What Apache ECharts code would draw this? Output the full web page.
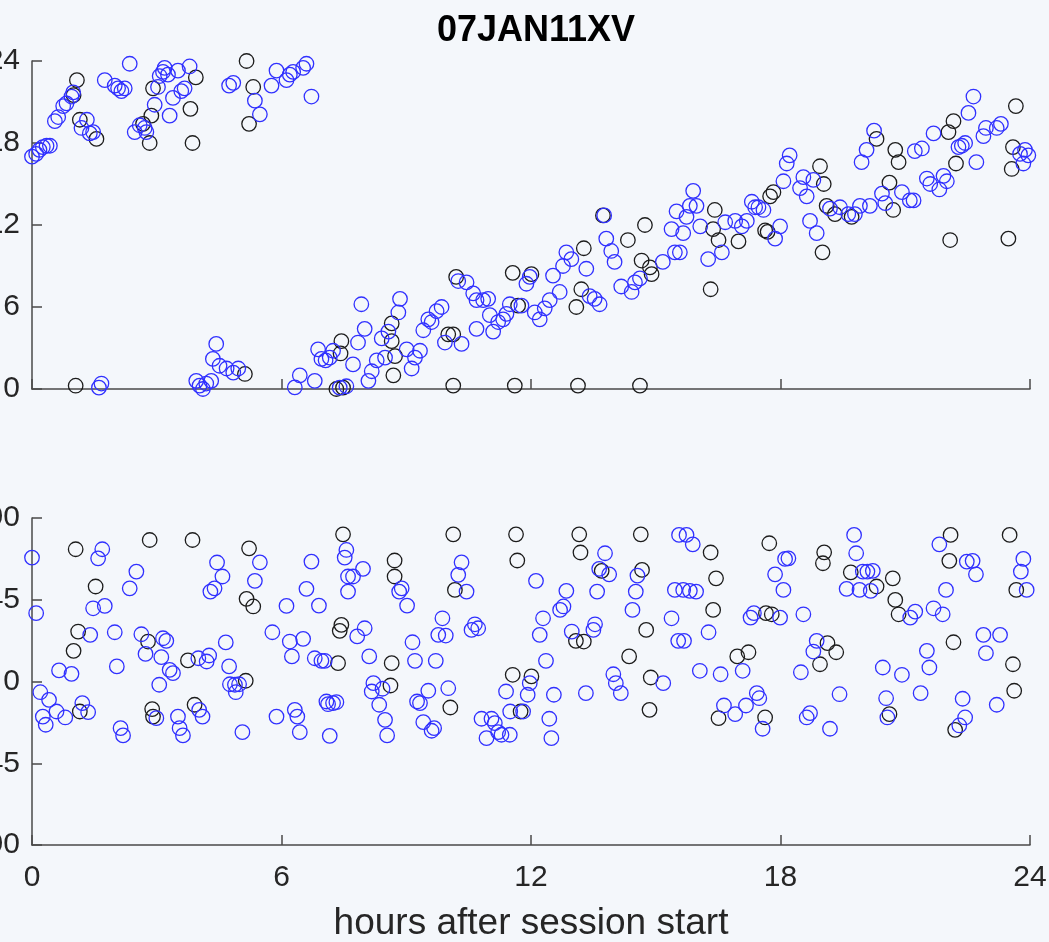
<!DOCTYPE html>
<html>
<head>
<meta charset="utf-8">
<script src="https://cdn.jsdelivr.net/npm/echarts@6/dist/echarts.min.js"></script>
<style>
html,body{margin:0;padding:0;background:#f4f7fb;}
#chart{width:1049px;height:942px;}
</style>
</head>
<body>
<div id="chart"></div>
<script>
// ---- data: [hours after session start, value] ----
const titleText = '07JAN11XV';
const xTicks = [0, 6, 12, 18, 24];
const topTicks = [0, 6, 12, 18, 24];
const botTicks = [-90, -45, 0, 45, 90];
const xLabel = 'hours after session start';

const topBlack = [[1.0,21.5],[1.05,0.24],[1.08,22.6],[1.15,19.7],[1.55,18.3],[2.67,19.4],[2.83,18.0],[2.87,20.0],[2.91,22.0],[3.81,20.5],[3.86,18.0],[3.94,22.8],[5.12,1.1],[5.16,24.0],[5.32,22.1],[5.22,19.4],[7.44,3.5],[7.42,2.6],[7.32,0.0],[7.48,0.1],[8.65,4.8],[8.65,3.5],[8.73,2.4],[8.69,1.0],[10.01,4.0],[10.13,4.0],[10.2,8.2],[10.13,0.25],[11.56,8.5],[11.61,0.25],[11.69,6.1],[12.01,8.4],[13.09,6.0],[13.13,0.25],[13.21,7.3],[13.27,10.3],[13.73,12.7],[14.33,10.9],[14.62,0.25],[14.66,9.4],[14.74,12.0],[14.86,8.9],[14.9,8.4],[16.32,7.3],[16.42,13.1],[16.38,11.7],[16.51,10.9],[16.99,10.8],[17.63,11.6],[17.69,11.5],[17.75,14.1],[17.83,14.4],[18.95,16.3],[19.04,15.0],[19.01,10.0],[19.11,13.4],[19.31,12.8],[19.71,12.6],[20.31,18.3],[20.62,15.1],[20.71,13.1],[20.76,17.5],[20.84,16.6],[22.08,10.9],[22.04,18.8],[22.16,19.6],[22.22,16.5],[23.48,11.0],[23.56,16.1],[23.59,17.7],[23.66,20.7]];

const topBlue = [[0,17.0],[0.1,17.2],[0.18,17.5],[0.26,17.7],[0.35,17.8],[0.43,17.8],[0.55,19.6],[0.63,19.9],[0.75,20.7],[0.83,20.9],[0.95,21.4],[0.99,21.7],[1.19,19.1],[1.32,19.7],[1.39,18.7],[1.47,18.8],[1.61,0.1],[1.67,0.4],[1.75,22.6],[1.99,22.2],[2.07,22.0],[2.15,21.8],[2.23,22.0],[2.35,23.8],[2.47,18.8],[2.59,19.3],[2.71,19.1],[2.75,18.8],[2.95,20.8],[3.03,22.1],[3.07,22.9],[3.15,23.2],[3.19,23.5],[3.27,23.0],[3.31,20.0],[3.39,21.3],[3.51,23.3],[3.59,21.8],[3.67,22.0],[3.79,23.6],[3.95,0.6],[4.03,0.25],[4.11,0.0],[4.19,0.4],[4.31,0.6],[4.35,2.2],[4.43,3.3],[4.51,1.7],[4.68,1.5],[4.84,1.2],[4.96,1.5],[4.74,22.2],[4.84,22.4],[5.36,21.1],[5.48,20.1],[5.76,22.2],[5.88,23.3],[6.12,22.6],[6.2,23.0],[6.28,23.2],[6.52,23.5],[6.6,23.8],[6.72,21.4],[6.32,0.12],[6.44,1.0],[6.8,0.6],[6.88,2.9],[6.96,2.2],[7.06,2.1],[7.16,2.3],[7.24,2.8],[7.4,0.1],[7.56,0.2],[7.72,1.8],[7.84,3.4],[7.92,6.2],[8.0,4.4],[8.09,0.6],[8.17,1.3],[8.29,2.1],[8.41,3.7],[8.49,2.3],[8.57,4.2],[8.81,5.6],[8.85,6.6],[9.01,2.9],[9.13,1.5],[9.21,2.3],[9.33,2.8],[9.41,4.3],[9.53,5.1],[9.61,4.9],[9.73,5.7],[9.85,6.0],[9.93,3.4],[10.25,7.9],[10.33,3.3],[10.45,7.8],[10.61,7.0],[10.69,6.5],[10.85,6.5],[10.97,6.6],[10.69,4.4],[11.01,5.4],[11.09,4.2],[11.21,4.9],[11.33,5.1],[11.41,5.5],[11.49,6.2],[11.77,6.1],[11.89,7.7],[11.97,8.2],[12.09,5.6],[12.21,5.1],[12.33,5.9],[12.45,6.5],[12.53,8.3],[12.69,7.1],[12.77,9.0],[12.85,10.0],[12.97,9.5],[13.33,8.8],[13.41,6.8],[13.53,6.6],[13.65,6.2],[13.76,12.7],[13.81,11.0],[13.93,10.1],[14.01,9.3],[14.17,7.5],[14.42,7.1],[14.5,7.8],[14.62,8.1],[15.17,9.3],[15.38,11.7],[15.46,10.0],[15.5,13.0],[15.58,10.0],[15.66,11.4],[15.74,12.6],[15.82,13.4],[15.98,13.4],[15.9,14.5],[16.07,11.9],[16.26,9.5],[16.59,10.0],[16.67,12.2],[16.91,12.3],[17.07,11.9],[17.19,12.3],[17.31,13.7],[17.39,13.3],[17.47,13.3],[17.59,13.1],[17.87,11.0],[17.99,11.9],[18.07,15.2],[18.15,16.5],[18.22,17.1],[18.47,14.7],[18.55,15.5],[18.63,14.1],[18.71,12.3],[18.79,15.3],[18.87,11.4],[19.19,13.2],[19.43,13.3],[19.63,12.8],[19.79,12.8],[19.91,13.4],[20.15,13.4],[19.95,16.6],[20.07,17.5],[20.25,18.9],[20.44,14.3],[20.52,13.6],[20.92,14.4],[21.11,13.8],[21.2,13.8],[21.23,17.4],[21.4,17.6],[21.52,15.4],[21.6,15.0],[21.68,18.7],[21.82,14.6],[21.92,15.6],[22.0,15.2],[22.28,17.7],[22.36,17.8],[22.44,18.0],[22.52,20.2],[22.64,21.4],[22.71,16.6],[22.88,18.5],[22.94,19.1],[23.2,19.1],[23.3,19.4],[23.76,17.2],[23.84,16.5],[23.96,17.1],[23.88,17.5]];

const botBlack = [[1.0,16.9],[1.05,72.8],[1.11,27.5],[1.15,-16.5],[1.53,52.3],[2.79,22.0],[2.83,77.9],[2.89,-15.2],[2.91,-19.3],[3.75,11.6],[3.86,77.9],[3.91,-12.8],[5.14,0.4],[5.16,45.5],[5.22,73.3],[5.32,41.3],[7.36,10.1],[7.4,27.9],[7.44,31.2],[7.48,81.0],[8.65,10.1],[8.62,-2.2],[8.72,66.6],[8.72,57.8],[10.06,-14.3],[10.13,81.0],[10.17,50.4],[11.56,3.7],[11.64,81.0],[11.67,66.6],[11.75,-16.5],[12.01,2.8],[13.08,22.4],[13.16,81.0],[13.19,71.0],[13.27,22.0],[13.7,60.9],[14.36,13.8],[14.64,81.0],[14.67,61.4],[14.77,28.4],[14.85,-15.6],[14.88,2.2],[16.32,71.0],[16.45,56.8],[16.38,39.4],[16.51,-20.2],[16.96,13.8],[17.23,16.1],[17.63,-19.8],[17.73,76.1],[17.65,37.6],[17.79,37.0],[18.95,9.5],[19.02,65.1],[19.05,71.1],[19.13,21.1],[19.34,16.1],[19.69,60.1],[20.31,52.3],[20.62,-18.0],[20.7,56.8],[20.76,44.9],[20.84,37.0],[22.06,66.4],[22.09,80.7],[22.16,21.6],[22.2,-26.6],[23.51,80.7],[23.59,9.5],[23.62,-5.1],[23.67,50.4]];

const botBlue = [[0,68.2],[0.1,37.6],[0.2,-5.9],[0.26,-19.3],[0.33,-23.8],[0.41,-10.1],[0.59,-16.5],[0.65,6.1],[0.8,-19.8],[0.95,4.2],[1.21,-11.9],[1.35,-16.9],[1.4,25.7],[1.47,40.3],[1.59,67.8],[1.69,72.8],[1.75,41.6],[1.99,27.1],[2.04,8.3],[2.13,-25.7],[2.19,-29.7],[2.35,51.3],[2.51,60.5],[2.63,26.0],[2.73,15.2],[2.99,-20.2],[3.06,-1.8],[3.11,13.4],[3.15,23.8],[3.23,22.4],[3.31,6.4],[3.39,4.6],[3.51,-19.3],[3.55,-25.7],[3.63,-29.7],[4.02,-15.6],[4.1,-19.3],[4.0,12.8],[4.2,11.0],[4.26,14.3],[4.29,49.5],[4.39,51.3],[4.45,65.5],[4.58,57.8],[4.66,21.5],[4.74,8.3],[4.76,-1.5],[4.88,-1.8],[4.9,-5.9],[4.98,-1.5],[5.06,-27.9],[5.36,55.4],[5.48,65.6],[5.78,27.1],[5.88,-19.3],[6.12,41.6],[6.2,22.0],[6.25,13.8],[6.32,-15.6],[6.38,-19.3],[6.44,-27.9],[6.52,23.5],[6.6,51.0],[6.72,66.0],[6.8,12.8],[6.9,41.8],[6.96,11.4],[7.04,11.4],[7.08,-11.0],[7.12,-12.5],[7.16,-29.9],[7.24,-11.9],[7.32,-11.4],[7.56,72.4],[7.52,68.2],[7.6,57.8],[7.6,49.5],[7.72,57.8],[7.96,62.0],[7.82,24.8],[8.0,29.3],[8.11,13.8],[8.21,-0.9],[8.17,-5.5],[8.35,-12.8],[8.49,-21.1],[8.54,-29.7],[8.43,-4.0],[8.83,49.5],[8.89,51.3],[9.02,41.8],[9.15,21.6],[9.21,11.4],[9.26,-11.0],[9.33,-11.9],[9.41,-22.4],[9.53,-5.1],[9.61,-27.1],[9.67,-25.7],[9.71,11.4],[9.77,25.7],[9.87,34.8],[9.95,25.3],[10.01,-3.7],[10.25,58.7],[10.33,65.6],[10.45,49.5],[10.57,28.4],[10.65,31.5],[10.73,29.3],[10.81,-20.5],[10.93,-31.2],[11.05,-20.5],[11.13,-22.9],[11.21,-27.9],[11.29,-29.3],[11.4,-5.5],[11.49,-29.3],[11.5,-16.5],[11.81,-16.5],[11.92,-7.3],[11.97,-0.9],[12.12,55.4],[12.21,25.7],[12.29,34.8],[12.36,11.4],[12.44,-20.5],[12.49,-31.2],[12.55,-7.3],[12.7,39.4],[12.78,41.3],[12.85,49.9],[12.98,27.5],[13.32,-6.4],[13.5,28.4],[13.54,31.5],[13.59,49.5],[13.64,62.0],[13.78,70.6],[13.88,59.0],[13.98,4.0],[14.04,-0.9],[14.16,-6.4],[14.44,39.4],[14.52,49.5],[14.56,58.3],[15.18,-0.9],[15.38,34.8],[15.46,50.4],[15.54,22.4],[15.56,80.7],[15.74,80.7],[15.89,75.5],[15.66,50.4],[15.82,49.9],[15.97,49.5],[15.68,22.4],[16.27,27.1],[16.06,5.9],[16.56,4.0],[16.64,-13.2],[16.91,-18.0],[17.09,5.9],[17.17,-13.2],[17.43,-6.4],[17.49,-9.2],[17.57,-26.0],[17.87,59.0],[18.07,50.4],[18.11,67.5],[18.19,67.8],[17.28,35.2],[17.36,37.6],[17.99,35.2],[18.49,5.1],[18.55,37.0],[18.63,-19.8],[18.71,-17.4],[18.79,16.5],[18.87,22.4],[19.19,-26.0],[19.42,-7.0],[19.59,51.0],[19.77,80.7],[19.82,70.6],[19.9,50.4],[19.98,60.5],[20.09,60.5],[20.17,49.9],[20.22,60.9],[20.46,7.7],[20.54,-9.2],[20.57,-19.8],[20.92,3.7],[21.12,35.2],[21.24,38.5],[21.37,-6.4],[21.52,16.9],[21.58,7.7],[21.68,40.3],[21.82,75.5],[21.9,37.0],[21.98,50.4],[22.3,-24.2],[22.38,-9.5],[22.44,-19.8],[22.48,66.0],[22.62,66.4],[22.7,59.0],[22.88,25.7],[22.94,15.6],[23.2,-12.8],[23.28,25.7],[23.78,60.5],[23.84,67.5],[23.92,50.4]];

// ---- chart ----
const FONT = 'Liberation Sans, Arial, sans-serif';
const AXIS_COLOR = '#4a4a4a';
const LABEL_COLOR = '#262626';
const BLUE = '#3030ff';
const BLACK = '#1c1c1c';

function xAxisCfg(gridIndex, showLabels) {
  return {
    type: 'value', gridIndex: gridIndex,
    min: xTicks[0], max: xTicks[xTicks.length - 1],
    interval: xTicks[1] - xTicks[0],
    axisLine: { show: true, onZero: false, lineStyle: { color: AXIS_COLOR, width: 1.5 } },
    axisTick: { show: true, inside: true, length: 10, lineStyle: { color: AXIS_COLOR, width: 1.5 } },
    axisLabel: { show: showLabels, fontSize: 30, color: LABEL_COLOR, fontFamily: FONT, margin: 18 },
    splitLine: { show: false },
    name: showLabels ? xLabel : '',
    nameLocation: 'middle', nameGap: 60,
    nameTextStyle: { fontSize: 37, color: LABEL_COLOR, fontFamily: FONT }
  };
}
function yAxisCfg(gridIndex, ticks) {
  return {
    type: 'value', gridIndex: gridIndex,
    min: ticks[0], max: ticks[ticks.length - 1],
    interval: ticks[1] - ticks[0],
    axisLine: { show: true, onZero: false, lineStyle: { color: AXIS_COLOR, width: 1.5 } },
    axisTick: { show: true, inside: true, length: 10, lineStyle: { color: AXIS_COLOR, width: 1.5 } },
    axisLabel: { show: true, fontSize: 30, color: LABEL_COLOR, fontFamily: FONT, margin: 12 },
    splitLine: { show: false }
  };
}
function scatter(data, color, axisIdx) {
  return {
    type: 'scatter', xAxisIndex: axisIdx, yAxisIndex: axisIdx,
    data: data, symbol: 'circle', symbolSize: 14.5,
    clip: false,
    itemStyle: { color: 'rgba(0,0,0,0)', borderColor: color, borderWidth: 1.3, opacity: 1 },
    emphasis: { disabled: true },
    animation: false
  };
}

const chart = echarts.init(document.getElementById('chart'), null, { renderer: 'canvas' });
chart.setOption({
  backgroundColor: '#f4f7fb',
  animation: false,
  title: {
    text: titleText, left: 531, top: 8, textAlign: 'center',
    textStyle: { fontSize: 36, fontWeight: 'bold', color: '#000', fontFamily: FONT }
  },
  grid: [
    { left: 32, right: 19, top: 61, height: 328, containLabel: false, outerBoundsMode: 'none' },
    { left: 32, right: 19, top: 518, height: 327, containLabel: false, outerBoundsMode: 'none' }
  ],
  xAxis: [xAxisCfg(0, false), xAxisCfg(1, true)],
  yAxis: [yAxisCfg(0, topTicks), yAxisCfg(1, botTicks)],
  series: [
    scatter(topBlack, BLACK, 0),
    scatter(topBlue, BLUE, 0),
    scatter(botBlack, BLACK, 1),
    scatter(botBlue, BLUE, 1)
  ]
});
</script>
</body>
</html>
